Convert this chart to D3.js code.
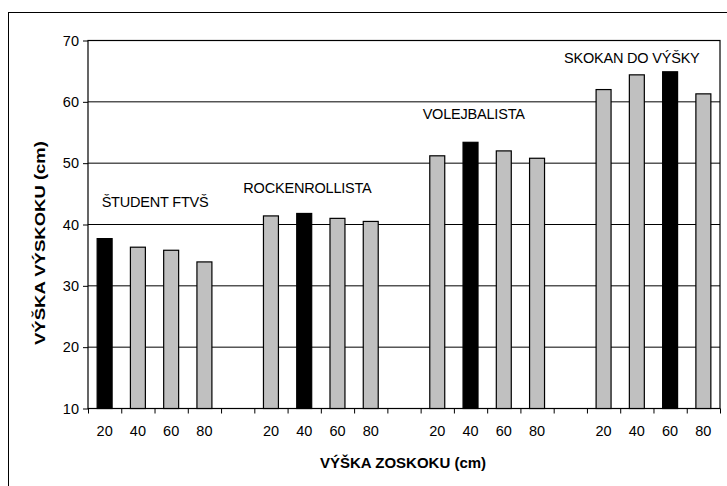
<!DOCTYPE html>
<html>
<head>
<meta charset="utf-8">
<script src="https://cdn.jsdelivr.net/npm/d3@7"></script>
<style>
  html, body { margin: 0; padding: 0; background: #fff; }
  svg { display: block; }
  text { font-family: Arial, "Liberation Sans", sans-serif; fill: #000; }
</style>
</head>
<body>
<svg id="chart" width="727" height="486"></svg>
<script>
// ---- data ----
const groups = ["ŠTUDENT FTVŠ", "ROCKENROLLISTA", "VOLEJBALISTA", "SKOKAN DO VÝŠKY"];
const dropHeights = ["20", "40", "60", "80"];
const studentValues = [37.7, 36.3, 35.8, 33.9];
const rockValues = [41.4, 41.8, 41.0, 40.5];
const volleyValues = [51.2, 53.4, 52.0, 50.8];
const highJumpValues = [62.0, 64.4, 64.9, 61.3];
const bestIndex = [0, 1, 1, 2];       // black (optimal) bar in each group
const yTicks = [10, 20, 30, 40, 50, 60, 70];
const yTitle = "VÝŠKA VÝSKOKU (cm)";
const xTitle = "VÝŠKA ZOSKOKU (cm)";

const seriesValues = [studentValues, rockValues, volleyValues, highJumpValues];

// ---- layout ----
const plot = { left: 88, right: 720, top: 40.5, bottom: 408.5 };
const svg = d3.select("#chart");

// outer frame
svg.append("rect")
  .attr("x", 8.5).attr("y", 12.5)
  .attr("width", 740).attr("height", 500)
  .attr("fill", "none").attr("stroke", "#000").attr("stroke-width", 1);

// slots: 4 bars, gap, 4 bars, gap, ...
const slots = [];
groups.forEach((g, gi) => {
  dropHeights.forEach((h, hi) => {
    slots.push({ key: `g${gi}-${h}`, group: gi, label: h, value: seriesValues[gi][hi], best: bestIndex[gi] === hi });
  });
  if (gi < groups.length - 1) slots.push({ key: `gap${gi}`, gap: true, label: "" });
});

const x = d3.scaleBand()
  .domain(slots.map(d => d.key))
  .range([plot.left, plot.right])
  .paddingInner(0.55).paddingOuter(0.275);
const xLin = d3.scaleLinear().domain([0, slots.length]).range([plot.left, plot.right]);
const y = d3.scaleLinear().domain([10, 70]).range([plot.bottom, plot.top]);

// gridlines
svg.append("g")
  .selectAll("line")
  .data(yTicks.filter(t => t > 10 && t < 70))
  .join("line")
  .attr("x1", plot.left).attr("x2", plot.right)
  .attr("y1", d => y(d)).attr("y2", d => y(d))
  .attr("stroke", "#000").attr("stroke-width", 1);

// plot border
svg.append("rect")
  .attr("x", plot.left).attr("y", plot.top)
  .attr("width", plot.right - plot.left).attr("height", plot.bottom - plot.top)
  .attr("fill", "none").attr("stroke", "#000").attr("stroke-width", 1.2);

// bars
svg.append("g")
  .selectAll("rect")
  .data(slots.filter(d => !d.gap))
  .join("rect")
  .attr("x", d => x(d.key))
  .attr("width", x.bandwidth())
  .attr("y", d => y(d.value))
  .attr("height", d => y(10) - y(d.value))
  .attr("fill", d => d.best ? "#000" : "#c0c0c0")
  .attr("stroke", "#000").attr("stroke-width", 1.2);

// y axis
const yAxis = svg.append("g")
  .attr("transform", `translate(${plot.left},0)`)
  .call(d3.axisLeft(y).tickValues(yTicks).tickSize(5).tickPadding(4).tickFormat(d3.format("d")));
yAxis.select(".domain").remove();
yAxis.selectAll(".tick line").attr("stroke", "#000");
yAxis.selectAll("text").style("font-size", "14.5px").attr("font-family", null);

// x axis boundary ticks
const xTickAxis = svg.append("g")
  .attr("transform", `translate(0,${plot.bottom})`)
  .call(d3.axisBottom(xLin).tickValues(d3.range(0, slots.length + 1)).tickSize(5).tickFormat(""));
xTickAxis.select(".domain").remove();
xTickAxis.selectAll(".tick line").attr("stroke", "#000");

// x tick labels
const xLabelAxis = svg.append("g")
  .attr("transform", `translate(0,${plot.bottom})`)
  .call(d3.axisBottom(x).tickSize(0).tickPadding(17).tickFormat(k => slots.find(s => s.key === k).label));
xLabelAxis.select(".domain").remove();
xLabelAxis.selectAll("text").style("font-size", "14.5px").attr("font-family", null);

// group labels (slot position, value height)
const labelPos = [[0.41, 42.9], [4.67, 45.2], [10.06, 57.2], [14.31, 66.3]];
svg.append("g")
  .selectAll("text")
  .data(groups)
  .join("text")
  .attr("x", (d, i) => xLin(labelPos[i][0]))
  .attr("y", (d, i) => y(labelPos[i][1]))
  .style("font-size", "14.5px")
  .style("letter-spacing", "-0.2px")
  .text(d => d);

// axis titles
svg.append("text")
  .attr("transform", `translate(45,243) rotate(-90)`)
  .attr("text-anchor", "middle")
  .attr("textLength", 204)
  .attr("lengthAdjust", "spacingAndGlyphs")
  .style("font-size", "15.5px").style("font-weight", "bold")
  .text(yTitle);

svg.append("text")
  .attr("x", (plot.left + plot.right) / 2 - 1)
  .attr("y", 468)
  .attr("text-anchor", "middle")
  .style("font-size", "15px").style("font-weight", "bold")
  .text(xTitle);
</script>
</body>
</html>
